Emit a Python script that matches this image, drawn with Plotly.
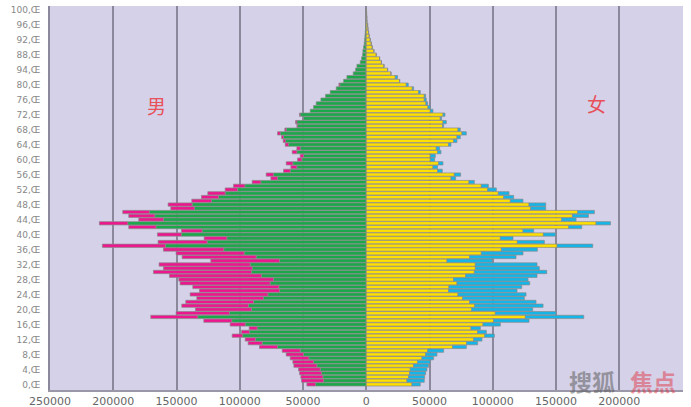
import plotly.graph_objects as go

ages = list(range(0, 101))

# male: inner (green) and outer total (green + pink), magnitudes
male_green = [40085, 33755, 34280, 35335, 36390, 39025, 41665, 45355, 49575, 52215,
              70145, 82275, 87550, 97835, 92295, 86230, 95720, 106270, 133170, 108120,
              90710, 93085, 89130, 81220, 77790, 68560, 69090, 75945, 73310, 82800,
              90710, 90185, 91770, 68560, 87020, 96515, 112600, 158750, 125785, 110225,
              146090, 129740, 166130, 188545, 160330, 167185, 171405, 135810, 137650, 122360,
              116820, 111545, 101790, 95985, 83330, 70145, 73310, 60125, 54850, 58010,
              50890, 49575, 54850, 52215, 61440, 63815, 65400, 68035, 63290, 54325,
              54850, 49575, 52215, 44300, 41665, 39555, 35860, 32170, 28480, 23735,
              20830, 17930, 15295, 10285, 8440, 7385, 4745, 3690, 2900, 2640,
              2110, 1580, 1320, 1055, 800, 530, 400, 250, 150, 100, 50]
male_total = [46935, 51160, 51685, 52740, 53535, 57220, 58010, 60125, 63290, 66450,
              84385, 93350, 95720, 106010, 98625, 92560, 107590, 128425, 170350, 150310,
              135015, 145825, 142660, 133960, 139235, 131850, 137125, 147145, 148200, 155585,
              168240, 160330, 163760, 122885, 145560, 150310, 160330, 208590, 164550, 128160,
              165080, 146090, 187755, 210965, 179845, 187755, 192500, 154530, 156640, 137915,
              130270, 125255, 111545, 104955, 90185, 75415, 79110, 65400, 59595, 63290,
              54325, 52215, 58540, 54850, 64080, 65660, 66980, 70145, 64340, 54850,
              55905, 49575, 52740, 44300, 41665, 39555, 35860, 32170, 28480, 23735,
              21620, 17930, 15295, 10285, 8440, 7385, 4745, 3690, 2900, 2640,
              2110, 1580, 1320, 1055, 800, 530, 400, 250, 150, 100, 50]

# female: inner (yellow) and outer total (yellow + cyan)
female_yellow = [36125, 32170, 33490, 34280, 34810, 37445, 40610, 44040, 46935, 48520,
                 68300, 79375, 84910, 93615, 88075, 82800, 92295, 100730, 125785, 102050,
                 83330, 85700, 81745, 76210, 72515, 65135, 65400, 71725, 69090, 78585,
                 85440, 86230, 86230, 63815, 81745, 90975, 106800, 150835, 119455, 106010,
                 140025, 123940, 160065, 181690, 154530, 162965, 167185, 130005, 128685, 113920,
                 108645, 104425, 95985, 90975, 81220, 66980, 69615, 56430, 52740, 57220,
                 50630, 50630, 56430, 55375, 65135, 69090, 71725, 75680, 72515, 60390,
                 60650, 58540, 60650, 50630, 48785, 47205, 45885, 45885, 41400, 36390,
                 31645, 26370, 22940, 19515, 16875, 13975, 12000, 10550, 7910, 6000,
                 4745, 3955, 3165, 2375, 1845, 1320, 1055, 530, 400, 250, 150]
female_total = [42720, 45885, 46145, 46935, 47995, 49310, 50630, 53270, 55905, 61180,
                79110, 88075, 91505, 101260, 94930, 90185, 106010, 128685, 171935, 150050,
                131585, 139765, 134225, 124995, 126310, 119190, 122885, 129215, 127895, 135015,
                142660, 136860, 135015, 99680, 118400, 123940, 135280, 179055, 140815, 116030,
                149785, 132375, 170350, 193030, 165870, 175625, 180370, 141870, 141870, 123940,
                116555, 112865, 102845, 96515, 85440, 70670, 74625, 60125, 56430, 60650,
                54060, 54585, 59070, 58010, 66980, 71725, 74365, 79110, 74365, 61180,
                63290, 59595, 62235, 52740, 50630, 48520, 47465, 46935, 42720, 37445,
                33225, 26370, 24785, 19515, 16875, 13975, 12000, 10550, 7910, 6000,
                4745, 3955, 3165, 2375, 1845, 1320, 1055, 530, 400, 250, 150]

y_tick_vals = list(range(0, 101, 4))
y_tick_text = ["0,Œ", "4,Œ", "8,Œ", "12,Œ", "16,Œ", "20,Œ", "24,Œ", "28,Œ", "32,Œ",
               "36,Œ", "40,Œ", "44,Œ", "48,Œ", "52,Œ", "56,Œ", "60,Œ", "64,Œ", "68,Œ",
               "72,Œ", "76,Œ", "80,Œ", "94,Œ", "88,Œ", "92,Œ", "96,Œ", "100,Œ"]
x_tick_vals = [-250000, -200000, -150000, -100000, -50000, 0, 50000, 100000, 150000, 200000, 250000]
x_tick_text = ["250000", "200000", "150000", "100000", "50000", "0", "50000", "100000",
               "150000", "200000", "250000"]

male_pink = [t - g for t, g in zip(male_total, male_green)]
female_cyan = [t - y for t, y in zip(female_total, female_yellow)]

W, H = 691, 407
ML, MR, MT, MB = 50, 8, 6, 17
plot_w = W - ML - MR
plot_h = H - MT - MB


def px(x):
    return (x - ML) / plot_w


def py(y):
    return 1 - (y - MT) / plot_h


outline = dict(color="#8a8a8a", width=0.7)
fig = go.Figure()
fig.add_trace(go.Bar(y=ages, x=[-v for v in male_green], orientation="h",
                     marker=dict(color="#1aa84a", line=outline), showlegend=False))
fig.add_trace(go.Bar(y=ages, x=[-v for v in male_pink], orientation="h",
                     marker=dict(color="#ee168e", line=outline), showlegend=False))
fig.add_trace(go.Bar(y=ages, x=female_yellow, orientation="h",
                     marker=dict(color="#ffe000", line=outline), showlegend=False))
fig.add_trace(go.Bar(y=ages, x=female_cyan, orientation="h",
                     marker=dict(color="#14b6ea", line=outline), showlegend=False))

fig.update_layout(
    width=W, height=H,
    margin=dict(l=ML, r=MR, t=MT, b=MB),
    barmode="relative", bargap=0.12,
    paper_bgcolor="white", plot_bgcolor="#d5d1e8",
    font=dict(family="DejaVu Sans", color="#777777"),
    xaxis=dict(range=[-250000, 250400], tickvals=x_tick_vals, ticktext=x_tick_text,
               showgrid=True, gridcolor="#8c889c", gridwidth=1.5, zeroline=False,
               showline=True, linecolor="#9a97a8", linewidth=1.5, automargin=False,
               tickfont=dict(size=11, color="#666666"), ticks="", fixedrange=True),
    yaxis=dict(range=[-1.5, 101.0], tickvals=y_tick_vals, ticktext=y_tick_text,
               showgrid=False, zeroline=False, showline=True, linecolor="#8c889c",
               linewidth=1.5, ticks="", ticklabelstandoff=6, automargin=False,
               tickfont=dict(size=9, color="#888888"), fixedrange=True),
)

fig.add_annotation(x=px(156), y=py(105), xref="paper", yref="paper", text="男",
                   showarrow=False, xanchor="center", yanchor="middle",
                   font=dict(size=19, color="#e8505a", family="Noto Sans CJK SC"))
fig.add_annotation(x=px(596), y=py(104), xref="paper", yref="paper", text="女",
                   showarrow=False, xanchor="center", yanchor="middle",
                   font=dict(size=19, color="#e8505a", family="Noto Sans CJK SC"))
fig.add_annotation(x=px(592), y=py(381), xref="paper", yref="paper", text="<b>搜狐</b>",
                   showarrow=False, xanchor="center", yanchor="middle", opacity=0.5,
                   font=dict(size=23, color="#555555", family="Noto Sans CJK SC"))
fig.add_annotation(x=px(653), y=py(381), xref="paper", yref="paper", text="<b>焦点</b>",
                   showarrow=False, xanchor="center", yanchor="middle", opacity=0.5,
                   font=dict(size=23, color="#e03a4a", family="Noto Sans CJK SC"))

fig.write_html("out.html", config={"displayModeBar": False},
               post_script="document.body.style.margin='0';")
